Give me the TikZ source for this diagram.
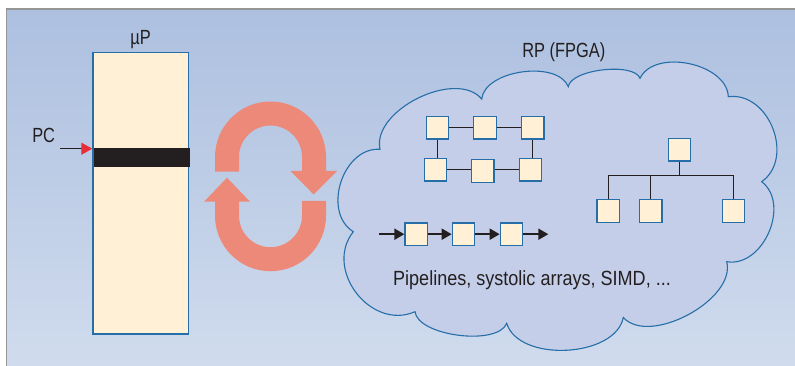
\documentclass[tikz,border=0pt]{standalone}
\usepackage{fontspec}
\usetikzlibrary{arrows.meta}
\newfontfamily\labelfont[FakeStretch=0.8]{Liberation Sans}
\newfontfamily\notefont[FakeStretch=0.88]{Liberation Sans}
\definecolor{panelTop}{RGB}{173,192,224}
\definecolor{panelBot}{RGB}{208,219,237}
\definecolor{cloudFill}{RGB}{196,206,232}
\definecolor{blueLine}{RGB}{38,110,168}
\definecolor{cream}{RGB}{255,240,214}
\definecolor{salmon}{RGB}{237,137,121}
\definecolor{ink}{RGB}{35,31,32}
\definecolor{pcRed}{RGB}{232,47,55}
\definecolor{frame}{RGB}{150,150,150}
\begin{document}
\begin{tikzpicture}[x=1pt,y=-1pt,
  pe/.style={draw=blueLine,fill=cream,line width=1.2pt,minimum size=22.5pt,inner sep=0pt},
  lbl/.style={font=\labelfont\fontsize{20.5}{24}\selectfont,text=ink,anchor=base,inner sep=0pt},
  wire/.style={draw=ink,line width=1.3pt},
  flow/.style={draw=ink,line width=2pt,-{Triangle[length=10pt,width=11pt]}},
  bump/.style={bend left=76,looseness=#1},
  loop/.style={fill=salmon}]
\useasboundingbox (0,0) rectangle (795,366);
\fill[white] (0,0) rectangle (795,366);

% background panel
\shade[top color=panelTop,bottom color=panelBot] (6.5,9) rectangle (795,366);
\draw[frame,line width=1.3pt] (6.5,366) -- (6.5,9) -- (795,9);

% microprocessor with program counter
\node[draw=blueLine,fill=cream,line width=1.3pt,minimum width=95.7pt,minimum height=281.4pt,inner sep=0pt] (up) at (140.8,193.35) {};
\node[fill=ink,minimum width=96pt,minimum height=18.7pt,inner sep=0pt] (pcbar) at (142,157.35) {};
\node[lbl] (uplbl) at (140.5,45) {µP};
\node[lbl] (pclbl) at (43.7,142.3) {PC};
\coordinate (pcstart) at (60,148.7);
\draw[ink,line width=1.3pt,-{Triangle[length=11pt,width=12pt,color=pcRed]}] (pcstart) -- (pcstart -| up.west);

% exchange loop (two bent arrows)
\fill[loop] (215,171.7) -- (215,157) arc[start angle=180,end angle=0,radius=55.5pt]
  -- (326,171) -- (337,171) -- (313.7,194.5) -- (290.5,171) -- (302,171)
  -- (302,157) arc[start angle=0,end angle=180,radius=31.5pt] -- (239,171.7) -- cycle;
\fill[loop] (302,201) -- (326,201) -- (326,215.7) arc[start angle=0,end angle=-180,radius=55.5pt]
  -- (215,201.7) -- (204,201.7) -- (227,177.7) -- (250,201.7) -- (239,201.7)
  -- (239,215.7) arc[start angle=180,end angle=360,radius=31.5pt] -- cycle;

% reconfigurable processor cloud
\filldraw[fill=cloudFill,draw=blueLine,line width=1.1pt]
  (380,149.3) to[bump=.9] (481.7,99)
  to[bump=.85] (568.3,86.7)
  to[bump=.62] (640,78.3)
  to[bump=.95] (728.3,96.7)
  to[bump=1.15] (761.7,181.7)
  to[bump=1.08] (726.7,261.7)
  to[bump=.85] (623.3,317.5)
  to[bump=.9] (506.7,323.3)
  to[bump=.68] (415,311.7)
  to[bump=1.22] (353.3,231.7)
  to[bump=1.1] (380,149.3) -- cycle;
\node[lbl] (rplbl) at (563.8,57.3) {RP (FPGA)};

% mesh of processing elements
\node[pe] (m1) at (437.5,127.7) {};
\node[pe] (m2) at (485,127.7) {};
\node[pe] (m3) at (532.8,127.7) {};
\node[pe] (m4) at (435.5,169.7) {};
\node[pe] (m5) at (482.7,171) {};
\node[pe] (m6) at (530.5,169.7) {};
\draw[wire] (m1) -- (m2);
\draw[wire] (m2) -- (m3);
\draw[wire] (m4.east) -- (m4.east -| m5.west);
\draw[wire] (m5.east |- m6.west) -- (m6.west);
\draw[wire] (m1.south) -- (m1.south |- m4.north);
\draw[wire] (m3.south) -- (m3.south |- m6.north);

% tree
\node[pe] (t0) at (679.5,149.7) {};
\node[pe] (t1) at (608.3,211) {};
\node[pe] (t2) at (650.7,211) {};
\node[pe] (t3) at (733.5,211) {};
\coordinate (tj) at (679.5,175.7);
\draw[wire] (t0.south) -- (tj);
\draw[wire] (t1.north) |- (tj);
\draw[wire] (t2.north) |- (tj);
\draw[wire] (t3.north) |- (tj);

% pipeline
\node[pe] (p1) at (416.2,234.2) {};
\node[pe] (p2) at (463.5,234.2) {};
\node[pe] (p3) at (511.5,234.2) {};
\coordinate (pin) at (379,234.2);
\coordinate (pout) at (548.3,234.2);
\draw[flow] (pin) -- (p1.west);
\draw[flow] (p1.east) -- (p2.west);
\draw[flow] (p2.east) -- (p3.west);
\draw[flow] (p3.east) -- (pout);

\node[lbl,font=\notefont\fontsize{20.5}{24}\selectfont] (note) at (532,285.7) {Pipelines, systolic arrays, SIMD, ...};
\end{tikzpicture}
\end{document}
